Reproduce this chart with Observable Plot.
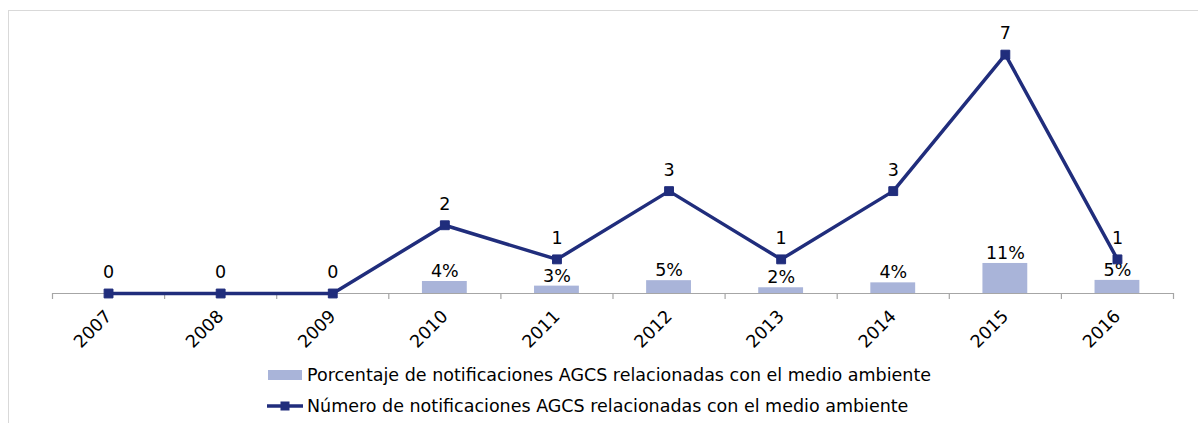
<!DOCTYPE html>
<html>
<head>
<meta charset="utf-8">
<script src="https://cdn.jsdelivr.net/npm/d3@7"></script>
<script src="https://cdn.jsdelivr.net/npm/@observablehq/plot@0.6"></script>
<style>
  html, body { margin: 0; padding: 0; background: #fff; }
  body { width: 1198px; height: 423px; position: relative; overflow: hidden; font-family: "DejaVu Sans", Verdana, sans-serif; }
  #frame { position: absolute; left: 8px; top: 10px; width: 1200px; height: 430px; border: 1px solid #d9d9d9; box-sizing: border-box; }
  #chart { position: absolute; left: 0; top: 0; }
  .leg { position: absolute; left: 266px; display: flex; align-items: center; font-size: 17.5px; color: #000; white-space: nowrap; }
  .leg svg { display: block; margin-right: 3px; }
</style>
</head>
<body>
<div id="frame"></div>
<div id="chart"></div>
<div class="leg" id="leg1" style="top:365px"></div>
<div class="leg" id="leg2" style="top:396px"></div>
<script>
const years = [2007, 2008, 2009, 2010, 2011, 2012, 2013, 2014, 2015, 2016];
const counts = [0, 0, 0, 2, 1, 3, 1, 3, 7, 1];
const pcts = [0, 0, 0, 0.044, 0.027, 0.047, 0.021, 0.039, 0.110, 0.048];
const seriesNames = [
  "Porcentaje de notificaciones AGCS relacionadas con el medio ambiente",
  "Número de notificaciones AGCS relacionadas con el medio ambiente"
];
const countMax = 8;   // primary axis max
const pctMax = 1;     // secondary axis max (100%)

const barColor = "#a9b4d9";
const lineColor = "#202d7c";
const axisColor = "#a6a6a6";

const data = years.map((year, i) => ({year, count: counts[i], pct: pcts[i]}));
const pctY = d => d.pct / pctMax * countMax;
const bounds = [...years.map(y => y - 0.5), years[years.length - 1] + 0.5];

const chart = Plot.plot({
  width: 1198,
  height: 360,
  marginLeft: 52,
  marginRight: 25,
  marginTop: 20,
  marginBottom: 67,
  style: {fontFamily: "DejaVu Sans, Verdana, sans-serif", fontSize: "17.5px", color: "#000", background: "transparent"},
  x: {type: "linear", domain: [bounds[0], bounds[bounds.length - 1]], label: null},
  y: {domain: [0, countMax], axis: null},
  marks: [
    Plot.rectY(data, {x1: d => d.year - 0.2, x2: d => d.year + 0.2, y1: 0, y2: pctY, fill: barColor}),
    Plot.ruleY([0], {stroke: axisColor, strokeWidth: 1.2}),
    Plot.axisX({ticks: bounds, tickSize: 6, tickFormat: () => "", stroke: axisColor, strokeWidth: 1.2, label: null}),
    Plot.axisX({ticks: years, tickSize: 0, tickPadding: 20, tickRotate: -45, tickFormat: "d", fontSize: 17.5, fill: "#000", label: null}),
    Plot.text(data.filter(d => d.pct > 0), {x: "year", y: pctY, text: d => Math.round(d.pct * 100) + "%", dy: -10, fontSize: 17.5, fill: "#000"}),
    Plot.line(data, {x: "year", y: "count", stroke: lineColor, strokeWidth: 3.5}),
    Plot.dot(data, {x: "year", y: "count", symbol: "square", r: 5, fill: lineColor, stroke: lineColor, strokeWidth: 1}),
    Plot.text(data, {x: "year", y: "count", text: d => String(d.count), dy: -21, fontSize: 17.5, fill: "#000"})
  ]
});
document.getElementById("chart").appendChild(chart);

document.getElementById("leg1").innerHTML =
  `<svg width="38" height="12"><rect x="2" y="1" width="34" height="10" fill="${barColor}"/></svg><span>${seriesNames[0]}</span>`;
document.getElementById("leg2").innerHTML =
  `<svg width="38" height="12"><line x1="1" x2="37" y1="6" y2="6" stroke="${lineColor}" stroke-width="3.5"/><rect x="14.5" y="1.5" width="9" height="9" fill="${lineColor}"/></svg><span>${seriesNames[1]}</span>`;
</script>
</body>
</html>
